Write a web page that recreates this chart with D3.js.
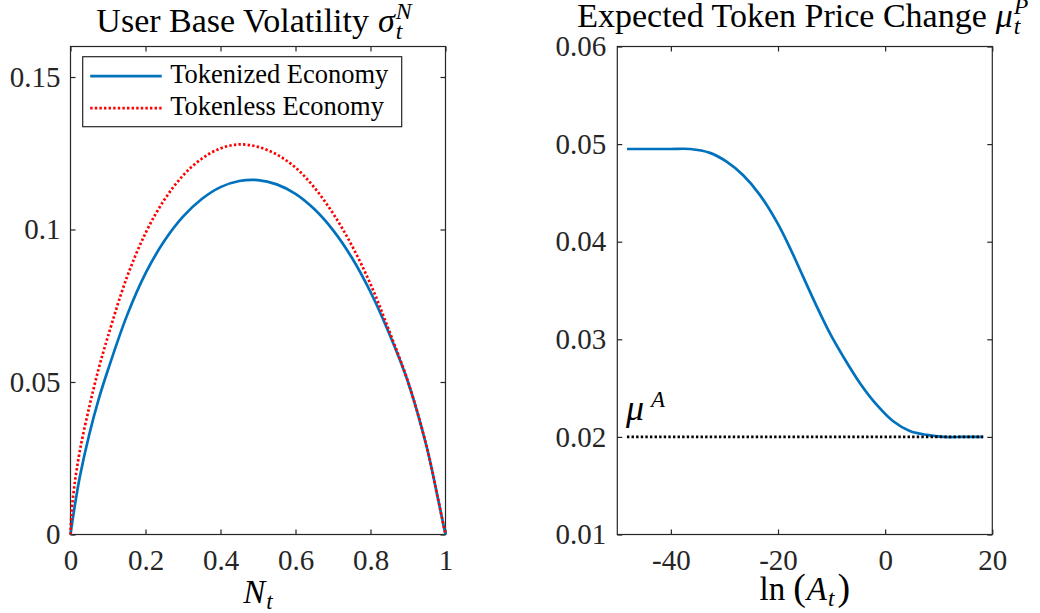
<!DOCTYPE html>
<html>
<head>
<meta charset="utf-8">
<script src="https://cdn.jsdelivr.net/npm/d3@7"></script>
<style>
  body { margin: 0; background: #fff; }
</style>
</head>
<body>
<div id="chart"></div>
<script>
// Left panel: user base volatility against N_t
const nValues = [0, 0.002, 0.01, 0.025, 0.05, 0.075, 0.1, 0.15, 0.2, 0.25, 0.3, 0.35, 0.4, 0.45, 0.5, 0.55, 0.6, 0.65, 0.7, 0.75, 0.8, 0.85, 0.9, 0.95, 0.98, 0.99, 1];
const tokenized = [0, 0.0018, 0.0083, 0.0190, 0.0328, 0.0443, 0.0540, 0.0716, 0.0856, 0.0962, 0.1042, 0.1100, 0.1139, 0.1159, 0.1162, 0.1148, 0.1117, 0.1067, 0.0998, 0.0908, 0.0795, 0.0658, 0.0500, 0.0286, 0.0117, 0.0058, 0];
const tokenless = [0, 0.0060, 0.0156, 0.0275, 0.0418, 0.0543, 0.0650, 0.0842, 0.0988, 0.1097, 0.1177, 0.1232, 0.1266, 0.1279, 0.1271, 0.1246, 0.1203, 0.1138, 0.1053, 0.0948, 0.0821, 0.0667, 0.0501, 0.0287, 0.0117, 0.0058, 0];
const leftXTicks = [0, 0.2, 0.4, 0.6, 0.8, 1];
const leftYTicks = [0, 0.05, 0.1, 0.15];
const legendLabels = ["Tokenized Economy", "Tokenless Economy"];

// Right panel: expected token price change against ln(A_t)
const lnA = [-48.2, -44, -40, -36.4, -32.7, -29.6, -26.5, -23.4, -20.2, -17.8, -15.3, -12.8, -10.3, -7.8, -4.7, -1.6, 1.5, 4.6, 7.8, 10.9, 14.6, 18.3];
const muP = [0.0495, 0.0495, 0.0495, 0.0495, 0.0491, 0.0482, 0.0468, 0.0448, 0.0420, 0.0394, 0.0364, 0.0334, 0.0306, 0.0282, 0.0255, 0.0233, 0.0216, 0.0206, 0.0202, 0.0200, 0.0200, 0.0200];
const muA = 0.02;
const rightXTicks = [-40, -20, 0, 20];
const rightYTicks = [0.01, 0.02, 0.03, 0.04, 0.05, 0.06];

const width = 1040, height = 613;
const font = '"Liberation Serif", "Times New Roman", serif';
const axisColor = "#262626";

const svg = d3.select("#chart").append("svg")
    .attr("width", width)
    .attr("height", height);

// scales
const xL = d3.scaleLinear().domain([0, 1]).range([70.5, 445.5]);
const yL = d3.scaleLinear().domain([0, 0.16]).range([534.5, 46.5]);
const xR = d3.scaleLinear().domain([-50, 20]).range([617.3, 992.3]);
const yR = d3.scaleLinear().domain([0.01, 0.06]).range([534.5, 46.5]);

// MATLAB style box, ticks pointing inwards on all four sides
function drawBox(x, y, xTicks, yTicks, xFmt, yFmt, yPad) {
    const g = svg.append("g");
    const [x0, x1] = x.range();
    const [y0, y1] = y.range();

    const styleAxis = sel => {
        sel.attr("font-family", null).attr("font-size", null);
        sel.select(".domain").remove();
        sel.selectAll("line").attr("stroke", axisColor).attr("stroke-width", 1.2);
        sel.selectAll("text")
            .style("font-family", font)
            .style("font-size", "29px")
            .attr("fill", axisColor);
    };

    g.append("g").attr("transform", `translate(0,${y0})`)
        .call(d3.axisBottom(x).tickValues(xTicks).tickSize(-5).tickPadding(15).tickFormat(xFmt))
        .call(styleAxis);
    g.append("g").attr("transform", `translate(0,${y1})`)
        .call(d3.axisTop(x).tickValues(xTicks).tickSize(-5).tickFormat(""))
        .call(styleAxis);
    g.append("g").attr("transform", `translate(${x0},0)`)
        .call(d3.axisLeft(y).tickValues(yTicks).tickSize(-5).tickPadding(yPad).tickFormat(yFmt))
        .call(styleAxis);
    g.append("g").attr("transform", `translate(${x1},0)`)
        .call(d3.axisRight(y).tickValues(yTicks).tickSize(-5).tickFormat(""))
        .call(styleAxis);

    g.append("rect")
        .attr("x", x0).attr("y", y1)
        .attr("width", x1 - x0).attr("height", y0 - y1)
        .attr("fill", "none")
        .attr("stroke", axisColor)
        .attr("stroke-width", 1.2);
}

// math-like label built from parts, centred at cx
function mathText(cx, baseline, size, parts) {
    const g = svg.append("g");
    let xpos = 0;
    parts.forEach(p => {
        const s = size * (p.scale || 1);
        const t = g.append("text")
            .attr("x", xpos + (p.dx || 0))
            .attr("y", p.dy || 0)
            .style("font-family", font)
            .style("font-size", s + "px")
            .style("font-style", p.italic ? "italic" : "normal")
            .attr("fill", "#000")
            .text(p.text);
        const w = t.node().getComputedTextLength();
        if (!p.stack) xpos += w + (p.dx || 0);
    });
    g.attr("transform", `translate(${cx - xpos / 2},${baseline})`);
    return g;
}

drawBox(xL, yL, leftXTicks, leftYTicks, d => String(d), d => String(d), 10);
drawBox(xR, yR, rightXTicks, rightYTicks, d => String(d), d => d.toFixed(2), 11);

// left curves
const lineL = d3.line().x(d => xL(d[0])).y(d => yL(d[1])).curve(d3.curveCatmullRom.alpha(0.5));
svg.append("path")
    .datum(nValues.map((n, i) => [n, tokenized[i]]))
    .attr("d", lineL)
    .attr("fill", "none")
    .attr("stroke", "#0072BD")
    .attr("stroke-width", 2.7);
svg.append("path")
    .datum(nValues.map((n, i) => [n, tokenless[i]]))
    .attr("d", lineL)
    .attr("fill", "none")
    .attr("stroke", "#FF0000")
    .attr("stroke-width", 2.7)
    .attr("stroke-dasharray", "2.4,2.2");

// legend
const lgX = xL.range()[0] + 12.2, lgY = yL.range()[1] + 10.2;
const legend = svg.append("g").attr("transform", `translate(${lgX},${lgY})`);
legend.append("rect")
    .attr("width", 319).attr("height", 70)
    .attr("fill", "#fff")
    .attr("stroke", axisColor)
    .attr("stroke-width", 1.2);
const legendStyles = [
    { color: "#0072BD", dash: null },
    { color: "#FF0000", dash: "2.4,2.2" }
];
legendLabels.forEach((label, i) => {
    const ly = 19.5 + i * 32;
    legend.append("line")
        .attr("x1", 7.5).attr("x2", 79)
        .attr("y1", ly).attr("y2", ly)
        .attr("stroke", legendStyles[i].color)
        .attr("stroke-width", 2.7)
        .attr("stroke-dasharray", legendStyles[i].dash);
    legend.append("text")
        .attr("x", 87.5).attr("y", ly + 6.5)
        .style("font-family", font)
        .style("font-size", "26.5px")
        .attr("fill", "#000")
        .text(label);
});

// right curves
const lineR = d3.line().x(d => xR(d[0])).y(d => yR(d[1])).curve(d3.curveCatmullRom.alpha(0.5));
svg.append("path")
    .datum(lnA.map((a, i) => [a, muP[i]]))
    .attr("d", lineR)
    .attr("fill", "none")
    .attr("stroke", "#0072BD")
    .attr("stroke-width", 2.7);
svg.append("path")
    .datum([[lnA[0], muA], [lnA[lnA.length - 1], muA]])
    .attr("d", lineR)
    .attr("fill", "none")
    .attr("stroke", "#000")
    .attr("stroke-width", 2.6)
    .attr("stroke-dasharray", "2.4,2.2");

// mu^A annotation
const muLabel = svg.append("g")
    .attr("transform", `translate(${xR(lnA[0]) - 1},${yR(muA) - 17})`);
muLabel.append("text")
    .style("font-family", font).style("font-size", "36px").style("font-style", "italic")
    .attr("fill", "#000").text("μ");
muLabel.append("text").attr("x", 25).attr("y", -13)
    .style("font-family", font).style("font-size", "23px").style("font-style", "italic")
    .attr("fill", "#000").text("A");

// titles
const cL = (xL.range()[0] + xL.range()[1]) / 2;
const cR = (xR.range()[0] + xR.range()[1]) / 2;
mathText(cL - 4, 32, 34, [
    { text: "User Base Volatility" },
    { text: "σ", italic: true, dx: 9 },
    { text: "t", italic: true, scale: 0.7, dy: 7, dx: 1, stack: true },
    { text: "N", italic: true, scale: 0.7, dy: -13, dx: 1 }
]);
mathText(cR - 2, 27, 34, [
    { text: "Expected Token Price Change" },
    { text: "μ", italic: true, dx: 9 },
    { text: "t", italic: true, scale: 0.7, dy: 7, dx: 1, stack: true },
    { text: "P", italic: true, scale: 0.7, dy: -13, dx: 1 }
]);

// axis labels
mathText(cL, 603, 33, [
    { text: "N", italic: true },
    { text: "t", italic: true, scale: 0.7, dy: 6, dx: 1 }
]);
mathText(cR, 600, 33, [
    { text: "ln" },
    { text: "(", scale: 1.15, dx: 8 },
    { text: "A", italic: true, dx: 1 },
    { text: "t", italic: true, scale: 0.7, dy: 6, dx: 1 },
    { text: ")", scale: 1.15, dx: 3 }
]);
</script>
</body>
</html>
